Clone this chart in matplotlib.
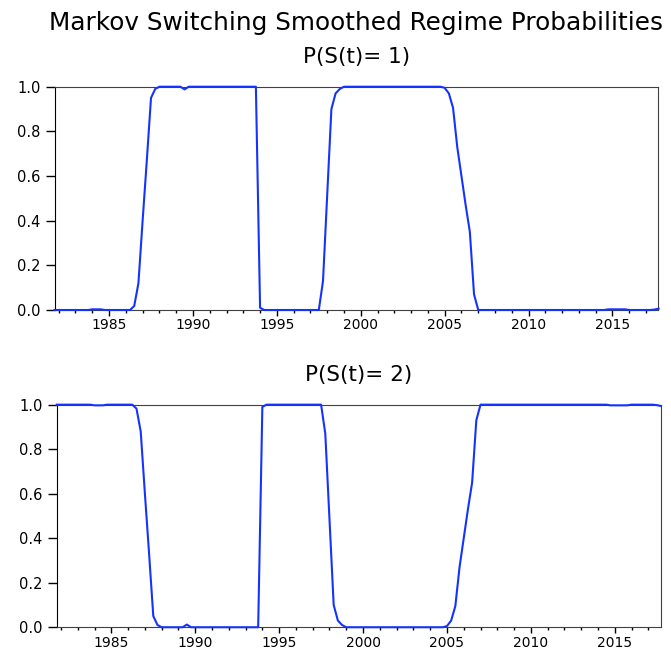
import matplotlib
matplotlib.use("Agg")
import matplotlib.pyplot as plt
from matplotlib.ticker import MultipleLocator, FormatStrFormatter
import numpy as np
import pandas as pd

# quarterly sample 1981Q4 - 2017Q4
quarters = pd.period_range("1981Q4", "2017Q4", freq="Q")
dates = quarters.year + (quarters.quarter - 1) / 4.0

# smoothed probability of regime 1
p1 = ([0.0] * 9 + [0.003, 0.003, 0.003] + [0.0] * 7
      + [0.018, 0.12, 0.40, 0.67, 0.95, 0.99]
      + [1.0] * 6 + [0.988] + [1.0] * 17
      + [0.01] + [0.0] * 14
      + [0.13, 0.52, 0.90, 0.97, 0.99]
      + [1.0] * 24
      + [0.995, 0.97, 0.905, 0.73, 0.60, 0.47, 0.35, 0.07]
      + [0.0] * 31 + [0.003] * 5 + [0.0] * 6 + [0.002, 0.006])

# smoothed probability of regime 2
p2 = ([1.0] * 9 + [0.997, 0.997, 0.997] + [1.0] * 7
      + [0.982, 0.88, 0.60, 0.33, 0.05, 0.01]
      + [0.0] * 6 + [0.012] + [0.0] * 17
      + [0.99] + [1.0] * 14
      + [0.87, 0.48, 0.10, 0.03, 0.01]
      + [0.0] * 24
      + [0.005, 0.03, 0.095, 0.27, 0.40, 0.53, 0.65, 0.93]
      + [1.0] * 31 + [0.997] * 5 + [1.0] * 6 + [0.998, 0.994])

titles = ["P(S(t)= 1)", "P(S(t)= 2)"]
series = [p1, p2]
major_years = list(range(1985, 2016, 5))

fig = plt.figure(figsize=(6.71, 6.51), dpi=100)
fig.text(0.53, 0.9539, "Markov Switching Smoothed Regime Probabilities",
         ha="center", va="baseline", fontsize=17.8)

boxes = [[0.082, 0.5238, 0.8993, 0.3430],
         [0.0854, 0.0365, 0.8993, 0.3419]]

for box, ttl, vals in zip(boxes, titles, series):
    ax = fig.add_axes(box)
    ax.plot(dates, vals, color="#1533ff", lw=1.5, clip_on=False, zorder=3)
    ax.set_xlim(1981.78, 2017.74)
    ax.set_ylim(0, 1)
    ax.set_title(ttl, fontsize=15.5, pad=17)
    ax.set_xticks(major_years)
    ax.xaxis.set_minor_locator(MultipleLocator(1))
    ax.set_yticks(np.arange(0, 1.01, 0.2))
    ax.yaxis.set_major_formatter(FormatStrFormatter("%.1f"))
    ax.tick_params(axis="x", which="major", length=4.5, width=1, pad=1.5, labelsize=10)
    ax.tick_params(axis="x", which="minor", length=2.3, width=1)
    ax.tick_params(axis="y", length=6.5, width=1, pad=4, labelsize=10.5)
    for side in ["top", "right", "bottom"]:
        ax.spines[side].set_color("#404040")
    ax.spines["left"].set_color("black")

fig.savefig("out.png", dpi=100)
